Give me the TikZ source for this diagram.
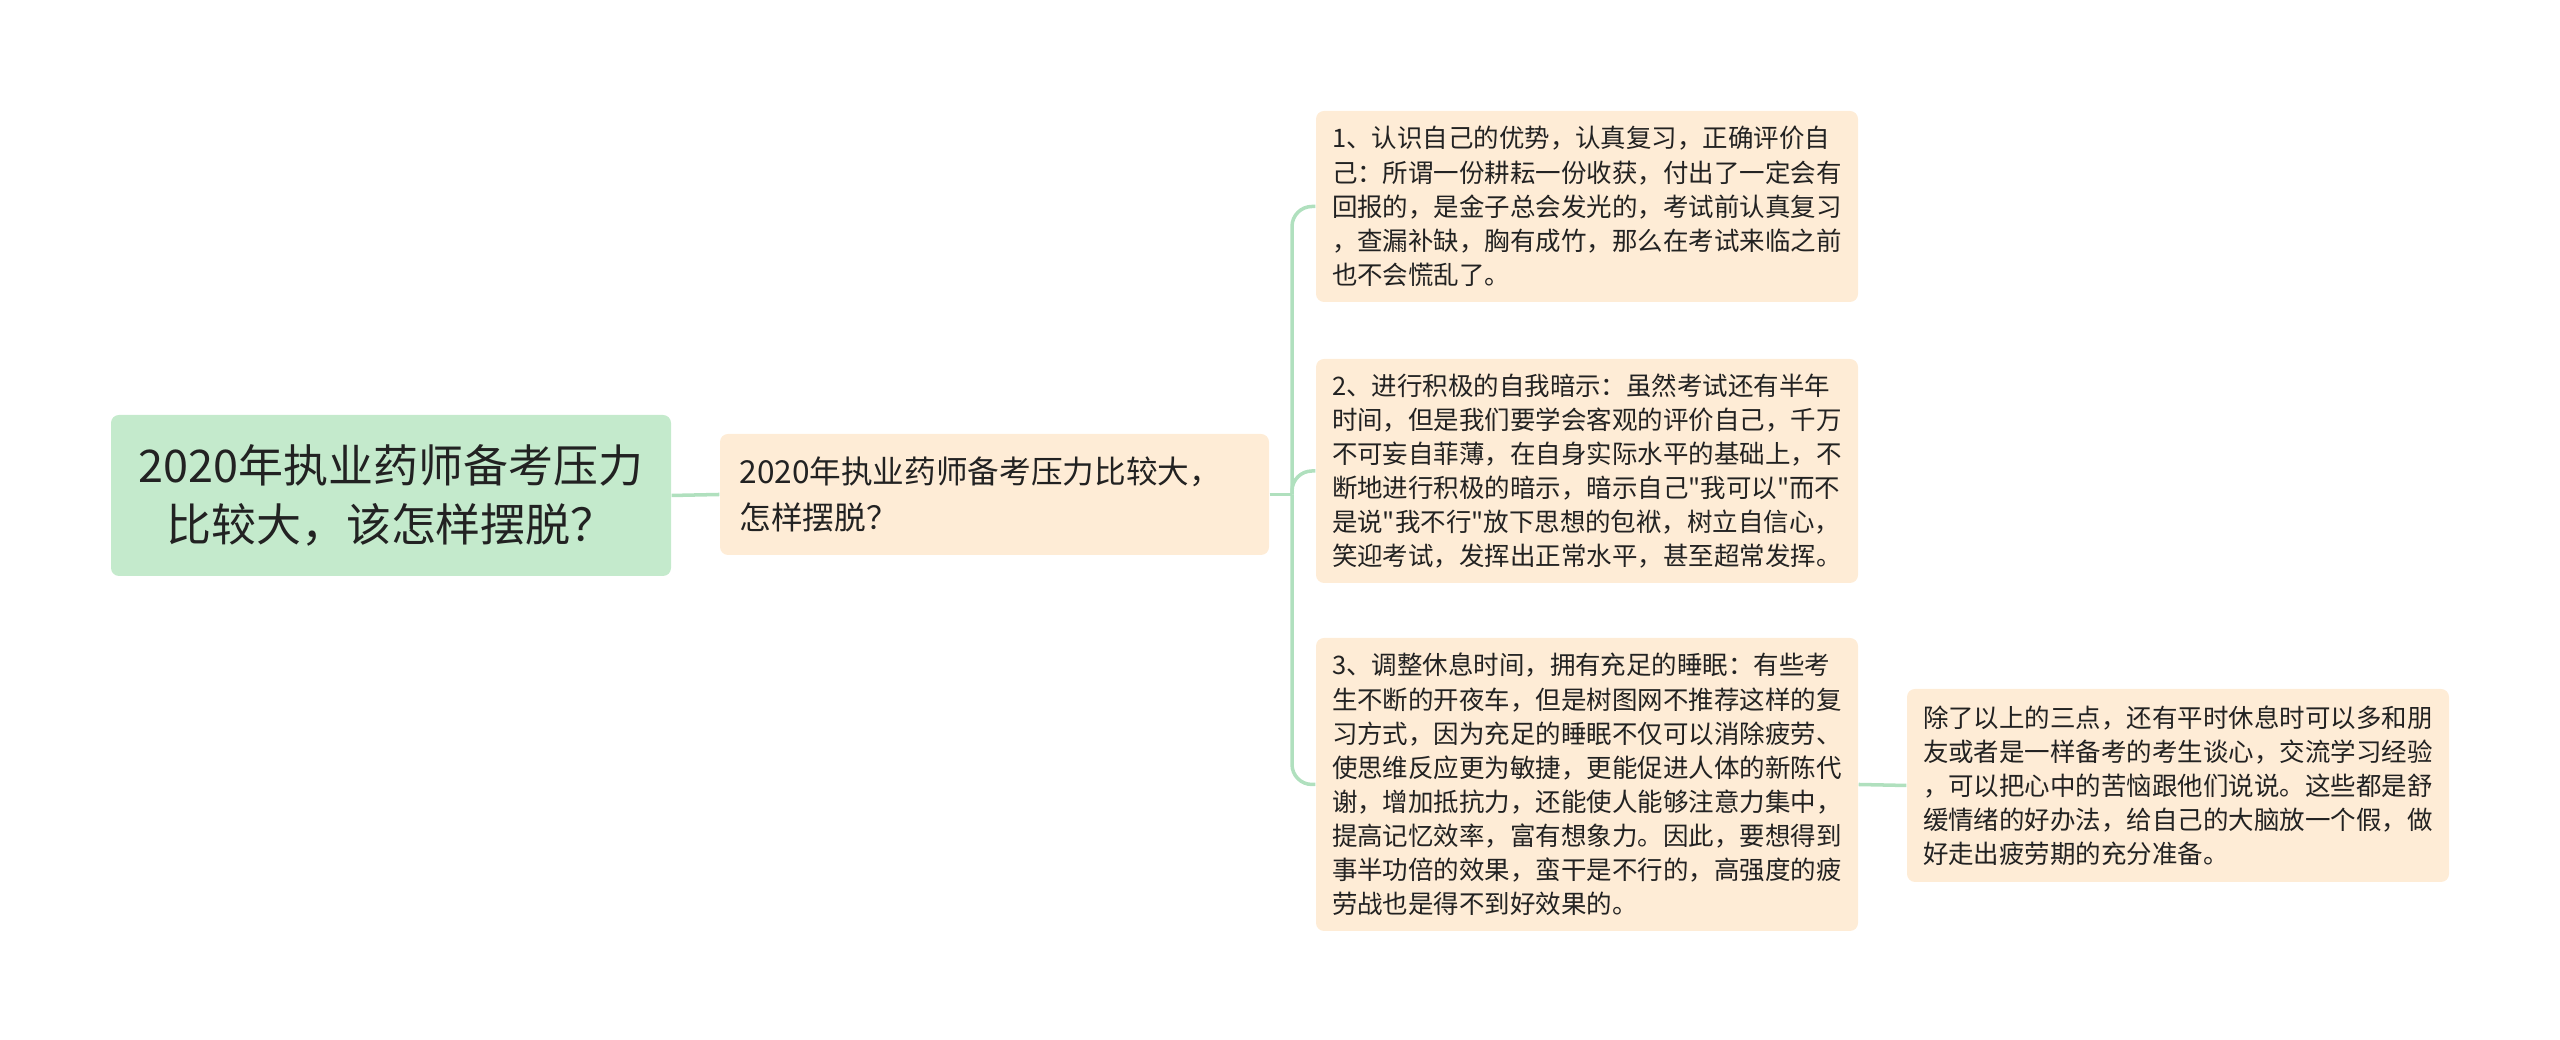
\documentclass[tikz,border=0pt]{standalone}
\usepackage{fontspec}
\setmainfont{Noto Sans CJK SC}[Ligatures=TeXOff]
\usepackage{tikz}
\definecolor{rootfill}{RGB}{196,234,204}
\definecolor{boxfill}{RGB}{254,236,214}
\definecolor{linkline}{RGB}{176,224,190}
\definecolor{ink}{RGB}{34,34,34}
\tikzset{
  rootbox/.style={fill=rootfill, rounded corners=0.08cm, text=ink, align=center,
    minimum width=5.6cm, minimum height=1.61cm, inner sep=0pt,
    font=\fontsize{12.8pt}{17pt}\selectfont},
  subbox/.style={fill=boxfill, rounded corners=0.08cm, text=ink, align=left,
    text width=5.1cm, minimum height=1.21cm, inner xsep=0.195cm, inner ysep=0pt,
    font=\fontsize{9pt}{13pt}\selectfont},
  leafbox/.style={fill=boxfill, rounded corners=0.08cm, text=ink, align=left,
    text width=5.1cm, inner xsep=0.16cm, inner ysep=0pt,
    font=\fontsize{7.25pt}{9.7pt}\selectfont},
  conn/.style={draw=linkline, line width=1pt, rounded corners=0.2cm}
}
\begin{document}
\begin{tikzpicture}
\useasboundingbox (0,0) rectangle (25.6,10.4);
\node[rootbox] (root) at (3.91,5.445) {2020年执业药师备考压力\\比较大，该怎样摆脱？};
\node[subbox] (sub) at (9.945,5.455) {2020年执业药师备考压力比较大，\\怎样摆脱？};
\node[leafbox, minimum height=1.91cm] (tip1) at (15.87,8.335)
  {1、认识自己的优势，认真复习，正确评价自\\己：所谓一份耕耘一份收获，付出了一定会有\\回报的，是金子总会发光的，考试前认真复习\\，查漏补缺，胸有成竹，那么在考试来临之前\\也不会慌乱了。};
\node[leafbox, minimum height=2.24cm] (tip2) at (15.87,5.69)
  {2、进行积极的自我暗示：虽然考试还有半年\\时间，但是我们要学会客观的评价自己，千万\\不可妄自菲薄，在自身实际水平的基础上，不\\断地进行积极的暗示，暗示自己"我可以"而不\\是说"我不行"放下思想的包袱，树立自信心，\\笑迎考试，发挥出正常水平，甚至超常发挥。};
\node[leafbox, minimum height=2.93cm] (tip3) at (15.87,2.555)
  {3、调整休息时间，拥有充足的睡眠：有些考\\生不断的开夜车，但是树图网不推荐这样的复\\习方式，因为充足的睡眠不仅可以消除疲劳、\\使思维反应更为敏捷，更能促进人体的新陈代\\谢，增加抵抗力，还能使人能够注意力集中，\\提高记忆效率，富有想象力。因此，要想得到\\事半功倍的效果，蛮干是不行的，高强度的疲\\劳战也是得不到好效果的。};
\node[leafbox, minimum height=1.93cm] (extra) at (21.78,2.545)
  {除了以上的三点，还有平时休息时可以多和朋\\友或者是一样备考的考生谈心，交流学习经验\\，可以把心中的苦恼跟他们说说。这些都是舒\\缓情绪的好办法，给自己的大脑放一个假，做\\好走出疲劳期的充分准备。};
\coordinate (fork) at (12.92,5.455);
\draw[conn] (root.east) -- (sub.west);
\draw[conn] (sub.east) -- (fork);
\draw[conn] (fork) |- (tip1.west);
\draw[conn] (fork) |- (tip2.west);
\draw[conn] (fork) |- (tip3.west);
\draw[conn] (tip3.east) -- (extra.west);
\end{tikzpicture}
\end{document}
